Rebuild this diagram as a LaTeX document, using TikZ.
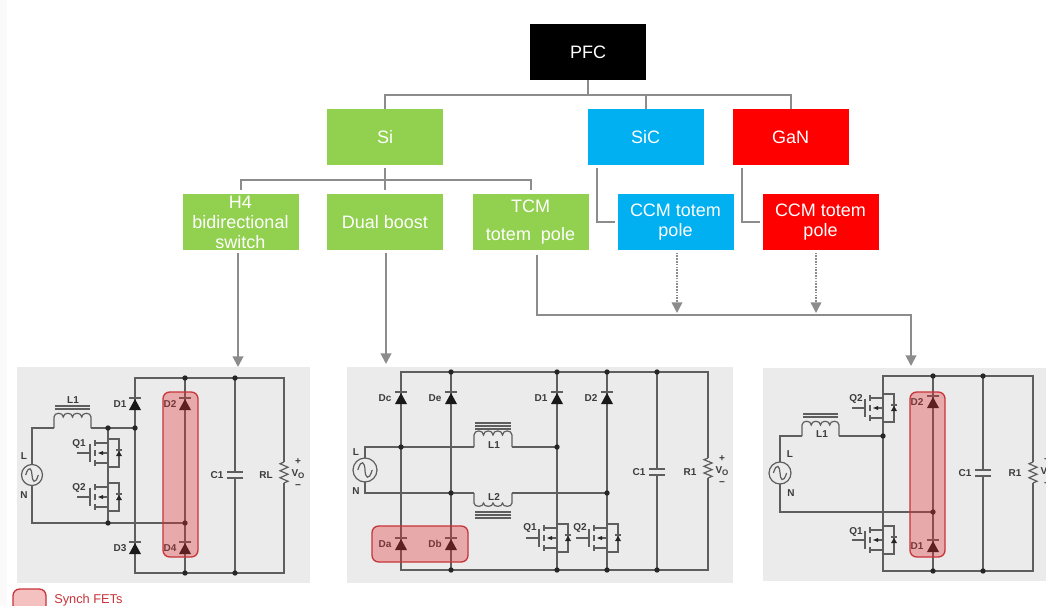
\documentclass[tikz,border=0pt]{standalone}
\usepackage{fontspec}
\setmainfont{Liberation Sans}
\usetikzlibrary{arrows.meta}
\definecolor{wirec}{HTML}{5E5E5E}
\definecolor{panelc}{HTML}{EBEBEB}
\definecolor{connc}{HTML}{8C8C8C}
\definecolor{labc}{HTML}{3C3C3C}
\definecolor{hilite}{HTML}{E03030}
\definecolor{hiedge}{HTML}{C8343A}
\definecolor{greenb}{HTML}{92D050}
\definecolor{blueb}{HTML}{00B0F0}
\definecolor{redb}{HTML}{FF0000}
\newcounter{lblc}
\tikzset{
  box/.style={minimum width=87pt,minimum height=42pt,inner sep=0pt,text=white,align=center,font=\fontsize{13.5}{15}\selectfont},
  conn/.style={draw=connc,line width=1.5pt},
  arr/.style={conn,-{Triangle[length=8pt,width=8pt]}},
  dotarr/.style={draw=connc,line width=1.1pt,densely dotted,-{Triangle[length=8pt,width=8pt]}},
  wire/.style={draw=wirec,line width=0.9pt},
  panel/.style={fill=panelc,draw=none},
  hl/.style={fill=hilite,fill opacity=0.35,draw=hiedge,line width=1pt,rounded corners=5pt},
  lab/.style={inner sep=0pt,text=labc,font=\fontsize{7.5}{8}\bfseries\selectfont},
  pt/.style={fill=black!85,draw=none}
}
\newcommand{\lbl}[3]{\stepcounter{lblc}\node[lab] (lb\thelblc) at (#1,#2) {#3};}
\newcommand{\jn}[2]{\fill[pt] (#1,#2) circle[radius=2pt];}
\newcommand{\dio}[4]{% x y label labelx
  \fill[black!90] (#1-6,#2+6) -- (#1+6,#2+6) -- (#1,#2-5) -- cycle;
  \draw[wire] (#1-6,#2-6) -- (#1+6,#2-6);
  \lbl{#4}{#2}{#3}}
\newcommand{\mosf}[2]{% x y : drain line x
  \draw[wire] (#1-31,#2) -- (#1-18,#2) (#1-18,#2-9) -- (#1-18,#2+9);
  \draw[wire] (#1-13,#2-13) -- (#1-13,#2-7) (#1-13,#2-3) -- (#1-13,#2+3) (#1-13,#2+7) -- (#1-13,#2+13);
  \draw[wire] (#1-13,#2-10) -- (#1,#2-10) (#1-13,#2+10) -- (#1,#2+10) (#1-6,#2) -- (#1,#2) -- (#1,#2+10);
  \fill[black!85] (#1-10,#2) -- (#1-5,#2-2) -- (#1-5,#2+2) -- cycle;
  \draw[wire] (#1,#2-14) -- (#1+11,#2-14) -- (#1+11,#2+14) -- (#1,#2+14);
  \fill[black!85] (#1+8,#2+3) -- (#1+14,#2+3) -- (#1+11,#2-2) -- cycle;
  \draw[wire] (#1+8,#2-3) -- (#1+14,#2-3);}
\newcommand{\coil}[4]{% x1 x2 y h
  \draw[wire] (#1,#3) -- (#1,#3-#4)
    .. controls +(0,-#4*0.45) and +(0,-#4*0.45) .. ++({(#2-#1)/4},0)
    .. controls +(0,-#4*0.45) and +(0,-#4*0.45) .. ++({(#2-#1)/4},0)
    .. controls +(0,-#4*0.45) and +(0,-#4*0.45) .. ++({(#2-#1)/4},0)
    .. controls +(0,-#4*0.45) and +(0,-#4*0.45) .. ++({(#2-#1)/4},0)
    -- (#2,#3);}
\newcommand{\ac}[3]{% x y r
  \draw[draw=wirec,line width=0.9pt,fill=panelc] (#1,#2) circle[radius=#3*0.75pt];
  \draw[wire] (#1-#3*0.6,#2) .. controls (#1-#3*0.3,#2-#3) and (#1-0.1,#2-#3*0.6) .. (#1,#2) .. controls (#1+0.1,#2+#3*0.6) and (#1+#3*0.3,#2+#3) .. (#1+#3*0.6,#2);}
\newcommand{\capc}[2]{% x y
  \fill[panelc] (#1-8,#2-2.5) rectangle (#1+8,#2+2.5);
  \draw[wire] (#1-8,#2-3) -- (#1+8,#2-3) (#1-8,#2+3) -- (#1+8,#2+3);}
\newcommand{\res}[3]{% x ytop ybot
  \fill[panelc] (#1-1,#2) rectangle (#1+1,#3);
  \draw[wire] (#1,#2) -- (#1-4,{#2+(#3-#2)/12}) -- (#1+4,{#2+3*(#3-#2)/12}) -- (#1-4,{#2+5*(#3-#2)/12}) -- (#1+4,{#2+7*(#3-#2)/12}) -- (#1-4,{#2+9*(#3-#2)/12}) -- (#1+4,{#2+11*(#3-#2)/12}) -- (#1,#3);}
\newcommand{\vout}[2]{% x y
  \stepcounter{lblc}\node[lab,anchor=base] (lb\thelblc) at (#1,#2+1) {V\raisebox{-1.5pt}{\fontsize{6}{6}\bfseries\selectfont O}};
  \stepcounter{lblc}\node[lab] (lb\thelblc) at (#1,#2-13) {+};
  \stepcounter{lblc}\node[lab] (lb\thelblc) at (#1,#2+12) {\textminus};}
\begin{document}
\begin{tikzpicture}[x=0.75pt,y=-0.75pt]
\useasboundingbox (0,0) rectangle (1046,606);
\clip (0,0) rectangle (1046,606);
\fill[white] (0,0) rectangle (1046,606);
\fill[black!2] (0,0) rectangle (7,606);

% tree
\node[box,fill=black] (pfc) at (588,52) {PFC};
\node[box,fill=greenb] (si) at (385,137) {Si};
\node[box,fill=blueb] (sic) at (645.5,137) {SiC};
\node[box,fill=redb] (gan) at (790.5,137) {GaN};
\node[box,fill=greenb] (h4) at (240.5,222) {H4\\bidirectional\\switch};
\node[box,fill=greenb] (dual) at (385,222) {Dual boost};
\node[box,fill=greenb] (tcm) at (530.5,222) {TCM\\[6pt]totem\ \ pole};
\node[box,fill=blueb] (ccmb) at (675.5,222) {CCM totem\\pole};
\node[box,fill=redb] (ccmr) at (820.5,222) {CCM totem\\pole};

\draw[conn] (pfc.south) -- (588,95) -| (si.north);
\draw[conn] (588,95) -| (sic.north);
\draw[conn] (588,95) -| (gan.north);
\draw[conn,shorten <=2pt] (si.south) -- (385,180) -| ([yshift=3pt]h4.north);
\draw[conn] (385,180) -- ([yshift=3pt]dual.north);
\draw[conn] (385,180) -| ([yshift=3pt]tcm.north);
\draw[conn,shorten <=2pt,shorten >=2pt] (597,165) |- (ccmb.west);
\draw[conn,shorten <=2pt,shorten >=2pt] (742,165) |- (ccmr.west);

% panels
\fill[panel] (17,367) rectangle (310,583);
\fill[panel] (347,367) rectangle (733,583);
\fill[panel] (763,368) rectangle (1046,581);

\coordinate (pa) at (238,367);
\coordinate (pb) at (386,364);
\coordinate (pc) at (911,366);
\draw[arr,shorten <=2pt] (238,250) -- (pa);
\draw[arr,shorten <=2pt] (386,250) -- (pb);
\draw[arr,shorten <=4pt] (537,250) -- (537,315) -| (pc);
\coordinate (db) at (677,313);
\coordinate (dr) at (816,313);
\draw[dotarr,shorten <=2pt] (677,250) -- (db);
\draw[dotarr,shorten <=2pt] (816,250) -- (dr);

% ---- panel 1
\draw[wire] (135,573) -- (135,378) -- (284,378) -- (284,573) -- cycle;
\draw[wire] (185,378) -- (185,573) (235,378) -- (235,573);
\draw[wire] (32,465) -- (32,428) -- (54,428);
\coil{54}{91}{428}{11}
\draw[wire] (91,428) -- (135,428);
\draw[wire] (32,485) -- (32,523) -- (185,523);
\draw[wire] (108,428) -- (108,523);
\draw[wire] (55,406) -- (90,406) (55,409) -- (90,409);
\ac{32}{475}{10.5}
\mosf{108}{453}
\mosf{108}{497}
\lbl{73}{400}{L1}
\lbl{24}{456}{L}
\lbl{24}{495}{N}
\lbl{79}{444}{Q1}
\lbl{79}{488}{Q2}
\dio{135}{404}{D1}{120}
\dio{185}{404}{D2}{170}
\dio{135}{548}{D3}{120}
\dio{185}{548}{D4}{170}
\capc{235}{475}
\lbl{217}{475}{C1}
\res{284}{462}{483}
\lbl{266}{475}{RL}
\vout{298}{475}
\foreach \a/\b in {185/378,235/378,185/573,235/573,108/428,135/428,108/523,185/523}{\jn{\a}{\b}}
\draw[hl] (163,392) rectangle (198,557);

% ---- panel 2
\draw[wire] (401,570) -- (401,372) -- (708,372) -- (708,570) -- cycle;
\draw[wire] (451,372) -- (451,570) (557,372) -- (557,570) (607,372) -- (607,570) (657,372) -- (657,570);
\draw[wire] (365,458) -- (365,447) -- (474,447);
\coil{474}{512}{447}{12}
\draw[wire] (512,447) -- (557,447);
\draw[wire] (365,482) -- (365,493) -- (474,493);
\coil{474}{512}{493}{-10}
\draw[wire] (512,493) -- (607,493);
\draw[wire] (475,423) -- (511,423) (475,426) -- (511,426) (475,429) -- (511,429);
\draw[wire] (475,512) -- (511,512) (475,515) -- (511,515) (475,518) -- (511,518);
\ac{365}{470}{12}
\mosf{557}{538}
\mosf{607}{538}
\lbl{356}{452}{L}
\lbl{356}{491}{N}
\lbl{494}{445}{L1}
\lbl{494}{497}{L2}
\lbl{530}{528}{Q1}
\lbl{580}{528}{Q2}
\dio{401}{398}{Dc}{385}
\dio{451}{398}{De}{435}
\dio{557}{398}{D1}{541}
\dio{607}{398}{D2}{591}
\dio{401}{544}{Da}{385}
\dio{451}{544}{Db}{435}
\capc{657}{472}
\lbl{639}{472}{C1}
\res{708}{458}{478}
\lbl{690}{472}{R1}
\vout{722}{472}
\foreach \a/\b in {451/372,557/372,607/372,657/372,451/570,557/570,607/570,657/570,401/447,557/447,451/493,607/493}{\jn{\a}{\b}}
\draw[hl] (372,526) rectangle (468,562);

% ---- panel 3
\draw[wire] (883,571) -- (883,376) -- (1033,376) -- (1033,571) -- cycle;
\draw[wire] (933,376) -- (933,571) (983,376) -- (983,571);
\draw[wire] (780,462) -- (780,436) -- (802,436);
\coil{802}{839}{436}{11}
\draw[wire] (839,436) -- (883,436);
\draw[wire] (780,484) -- (780,512) -- (933,512);
\draw[wire] (803,414) -- (838,414) (803,417) -- (838,417);
\ac{780}{473}{11}
\mosf{883}{408}
\mosf{883}{540}
\lbl{790}{454}{L}
\lbl{791}{493}{N}
\lbl{822}{434}{L1}
\lbl{856}{399}{Q2}
\lbl{856}{532}{Q1}
\dio{933}{402}{D2}{917}
\dio{933}{546}{D1}{917}
\capc{983}{473}
\lbl{965}{473}{C1}
\res{1033}{462}{483}
\lbl{1015}{473}{R1}
\vout{1047}{473}
\foreach \a/\b in {933/376,983/376,933/571,983/571,883/436,933/512}{\jn{\a}{\b}}
\draw[hl] (910,392) rectangle (945,557);

% legend
\draw[hl,fill=hilite,fill opacity=0.3] (13,589) rectangle (46,612);
\node[inner sep=0pt,anchor=west,text=hiedge,font=\fontsize{9.6}{10}\selectfont] (legend) at (54,600) {Synch FETs};
\end{tikzpicture}
\end{document}
